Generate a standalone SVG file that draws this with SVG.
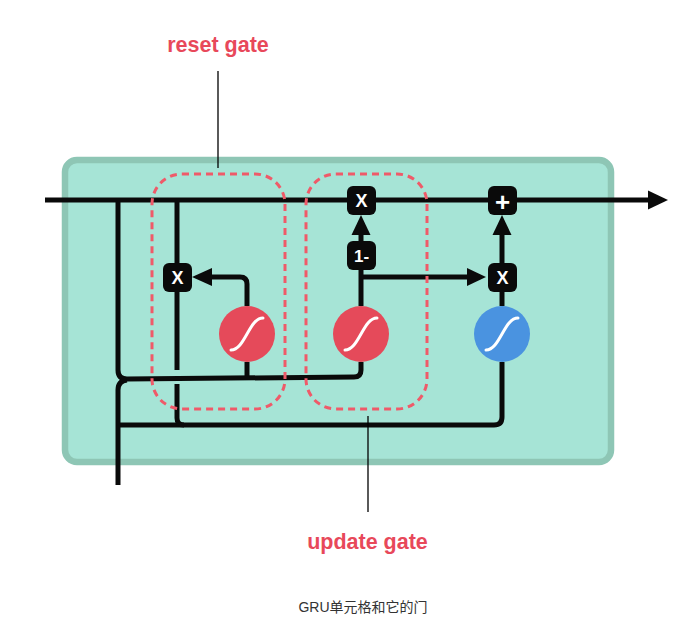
<svg xmlns="http://www.w3.org/2000/svg" width="681" height="623" viewBox="0 0 681 623">
<style>
.ln{fill:none;stroke:#0a0a0a;stroke-width:5;stroke-linecap:butt;stroke-linejoin:round}
.ah{fill:#0a0a0a}
.op{fill:#0a0a0a}
.opt{fill:#fff;font-family:"Liberation Sans",Arial,sans-serif;font-weight:bold;font-size:18px;text-anchor:middle}
.sig{fill:none;stroke:#fff;stroke-width:3;stroke-linecap:round}
.gate{fill:none;stroke:#ef5a69;stroke-width:3;stroke-dasharray:7 5}
.lbl{fill:#e8485a;font-family:"Liberation Sans",Arial,sans-serif;font-weight:bold;font-size:21.5px;text-anchor:middle}
.ptr{stroke:#000;stroke-width:1.3;fill:none}
</style>
<defs>
<path id="s" class="sig" d="M-16,16 C-2,16 2,-16 16,-16"/>
</defs>
<rect width="681" height="623" fill="#fff"/>
<rect id="cell" x="65" y="160" width="546" height="302" rx="12" fill="#a6e4d6" stroke="#8ec6b5" stroke-width="6.5"/>
<g id="connectors">
<path class="ln" d="M45,200 H650"/>
<polygon class="ah" points="668,200 648,190.5 648,209.5"/>
<path class="ln" d="M118,200 V370 Q118,379 127,379 L354,377 Q361,377 361,370 V362"/>
<path class="ln" d="M118,485 V390 Q118,381 127,380"/>
<path class="ln" d="M118,425 H494 Q502,425 502,417 V362"/>
<path class="ln" d="M177,200 V370"/>
<path class="ln" d="M177,384 V418 Q177,425 184,425"/>
<path class="ln" d="M247,362 V378"/>
<path class="ln" d="M247,306 V284 Q247,277 240,277 H210"/>
<polygon class="ah" points="192,277 212,268 212,286"/>
<path class="ln" d="M361,306 V270"/>
<path class="ln" d="M361,241 V233"/>
<polygon class="ah" points="361,215 351.5,235 370.5,235"/>
<path class="ln" d="M361,277 H469"/>
<polygon class="ah" points="486,277 467,268 467,286"/>
<path class="ln" d="M502,306 V292"/>
<path class="ln" d="M502,263 V233"/>
<polygon class="ah" points="502,215 492.5,235 511.5,235"/>
</g>
<g id="sigma-reset">
<circle cx="247" cy="334" r="28" fill="#e54a5a"/>
<use href="#s" x="247" y="334"/>
</g>
<g id="sigma-update">
<circle cx="361" cy="334" r="28" fill="#e54a5a"/>
<use href="#s" x="361" y="334"/>
</g>
<g id="tanh">
<circle cx="502" cy="334" r="28" fill="#4a93e0"/>
<use href="#s" x="502" y="334"/>
</g>
<g id="mul-reset">
<rect class="op" x="163" y="263" width="29" height="29" rx="6"/>
<text class="opt" x="177.5" y="284">X</text>
</g>
<g id="mul-top">
<rect class="op" x="347" y="186" width="29" height="29" rx="6"/>
<text class="opt" x="361.5" y="207">X</text>
</g>
<g id="one-minus">
<rect class="op" x="347" y="241" width="29" height="29" rx="6"/>
<text class="opt" x="361.5" y="262" style="font-size:17px">1-</text>
</g>
<g id="mul-right">
<rect class="op" x="488" y="263" width="29" height="29" rx="6"/>
<text class="opt" x="502.5" y="284">X</text>
</g>
<g id="plus">
<rect class="op" x="488" y="186" width="29" height="29" rx="6"/>
<text class="opt" x="502.5" y="210.5" style="font-size:26px">+</text>
</g>
<g id="reset-gate">
<rect class="gate" x="152" y="174" width="133" height="235" rx="30"/>
<line class="ptr" x1="218" y1="71" x2="218" y2="168"/>
<text class="lbl" x="218" y="52">reset gate</text>
</g>
<g id="update-gate">
<rect class="gate" x="306" y="174" width="121" height="235" rx="30"/>
<line class="ptr" x1="368" y1="416" x2="368" y2="512"/>
<text class="lbl" x="367.5" y="549">update gate</text>
</g>
<text x="363" y="612" font-family="'Liberation Sans','Noto Sans CJK SC',sans-serif" font-size="14" fill="#333" text-anchor="middle">GRU单元格和它的门</text>
</svg>
